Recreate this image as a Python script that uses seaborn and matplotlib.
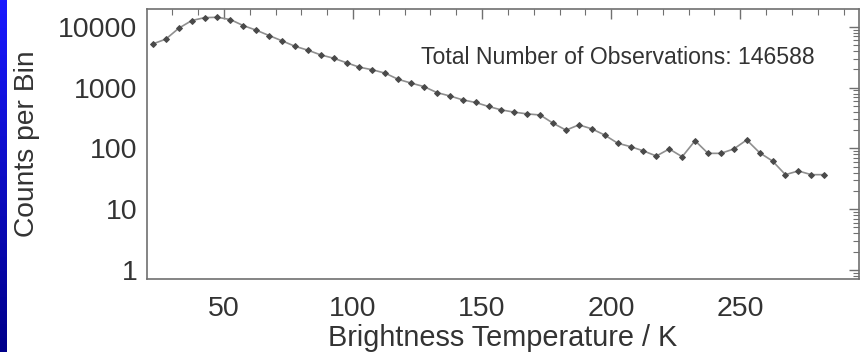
import numpy as np
import pandas as pd
import matplotlib
matplotlib.use("Agg")
import matplotlib.pyplot as plt
import seaborn as sns
from matplotlib.ticker import LogLocator, NullFormatter, MultipleLocator, FixedLocator
from matplotlib.colors import LinearSegmentedColormap

temperature = [22.5, 27.5, 32.5, 37.5, 42.5, 47.5, 52.5, 57.5, 62.5, 67.5,
               72.5, 77.5, 82.5, 87.5, 92.5, 97.5, 102.5, 107.5, 112.5, 117.5,
               122.5, 127.5, 132.5, 137.5, 142.5, 147.5, 152.5, 157.5, 162.5, 167.5,
               172.5, 177.5, 182.5, 187.5, 192.5, 197.5, 202.5, 207.5, 212.5, 217.5,
               222.5, 227.5, 232.5, 237.5, 242.5, 247.5, 252.5, 257.5, 262.5, 267.5,
               272.5, 277.5, 282.5]
counts = [5250, 6300, 9500, 12700, 14200, 14400, 13200, 10500, 8830, 7200,
          5900, 4800, 4140, 3460, 3050, 2570, 2170, 1970, 1730, 1370,
          1190, 1040, 830, 730, 630, 570, 490, 430, 395, 370,
          355, 260, 200, 244, 210, 166, 122, 107, 91, 75,
          98, 73, 134, 83, 83, 98, 138, 85, 62, 37,
          42.6, 37, 37]
x_ticks = [50, 100, 150, 200, 250]
y_ticks = [1, 10, 100, 1000, 10000]
y_tick_labels = ["1", "10", "100", "1000", "10000"]
annotation = "Total Number of Observations: 146588"

df = pd.DataFrame({"T": temperature, "N": counts})

sns.set_theme(style="white")
plt.rcParams["font.family"] = ["Liberation Sans", "DejaVu Sans"]

fig = plt.figure(figsize=(8.62, 3.52), dpi=100)
fig.patch.set_facecolor("white")

# blue strip on the left edge
strip = fig.add_axes([0, 0, 7 / 862, 1])
grad = np.linspace(0, 1, 256).reshape(-1, 1)
cmap = LinearSegmentedColormap.from_list("b", ["#1a1aff", "#00008a"])
strip.imshow(grad, aspect="auto", cmap=cmap, extent=[0, 1, 0, 1], origin="upper")
strip.set_axis_off()

ax = fig.add_axes([147 / 862, 1 - 279 / 352, (859 - 147) / 862, (279 - 9) / 352])
sns.lineplot(data=df, x="T", y="N", ax=ax, color="#8f8f8f", linewidth=1.2,
             marker="D", markersize=3.0, markerfacecolor="#4a4a4a",
             markeredgecolor="#4a4a4a")
ax.set_yscale("log")
ax.set_xlim(20.2, 296)
ax.set_ylim(0.71, 19700)

ax.xaxis.set_major_locator(FixedLocator(x_ticks))
ax.xaxis.set_minor_locator(MultipleLocator(10))
ax.yaxis.set_major_locator(FixedLocator(y_ticks))
ax.set_yticklabels(y_tick_labels)
ax.yaxis.set_minor_locator(LogLocator(base=10, subs=np.arange(2, 10), numticks=20))
ax.yaxis.set_minor_formatter(NullFormatter())

for s in ax.spines.values():
    s.set_color("#707070")
    s.set_linewidth(1.2)

ax.tick_params(which="both", direction="in", top=True, right=True,
               color="#707070", labelsize=20.5, labelcolor="#333333")
ax.tick_params(which="major", length=7, width=1.0)
ax.tick_params(which="minor", length=4, width=0.8)
ax.tick_params(axis="x", which="major", pad=12)
ax.tick_params(axis="y", which="major", pad=7)

ax.set_xlabel("Brightness Temperature / K", fontsize=20.8, color="#333333", labelpad=1.5)
ax.set_ylabel("Counts per Bin", fontsize=20.3, color="#333333", labelpad=13)

ax.text(0.938, 0.822, annotation, transform=ax.transAxes, ha="right", va="center",
        fontsize=16.6, color="#333333")

fig.savefig("out.png", dpi=100)
